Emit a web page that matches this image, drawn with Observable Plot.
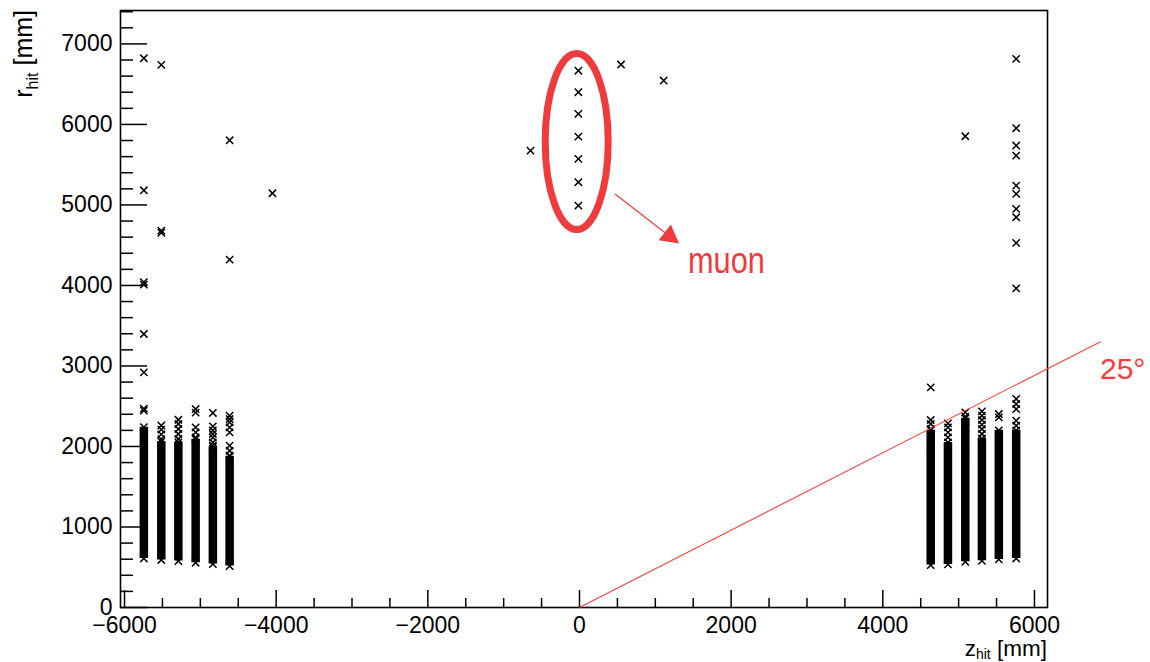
<!DOCTYPE html>
<html><head><meta charset="utf-8">
<script src="https://cdn.jsdelivr.net/npm/d3@7"></script>
<script src="https://cdn.jsdelivr.net/npm/@observablehq/plot@0.6"></script>
<style>html,body{margin:0;padding:0;background:#fff;} svg{display:block}</style>
</head><body><div id="chart"></div>
<script>
// ---- data ----
// dense hit columns (end-cap stations): z [mm], lowest and highest r of the solid band [mm]
const denseZ  = [-5745, -5515, -5290, -5062, -4835, -4614, 4632, 4859, 5088, 5307, 5530, 5759];
const denseLo = [609, 590, 577, 556, 540, 515, 527, 535, 568, 580, 597, 609];
const denseHi = [2240, 2060, 2050, 2090, 2000, 1880, 2200, 2050, 2350, 2100, 2200, 2200];
// individually visible hits in each column
const colR = [
  [6822, 5182, 4040, 4010, 3397, 2920, 2470, 2445],
  [6740, 4680, 4655, 2260, 2210, 2150, 2090],
  [2332, 2279, 2217, 2155, 2093],
  [2465, 2420, 2237, 2175, 2113],
  [2416, 2250, 2200, 2155, 2110, 2050, 2010],
  [5803, 4321, 2382, 2341, 2300, 2237, 2175, 2010, 1947, 1885],
  [2734, 2329, 2279, 2217, 2072, 1926, 1844],
  [2287, 2237, 2175, 2113],
  [5853, 2423, 2370, 2300, 2230, 2150, 2060, 1950, 1840],
  [2436, 2382, 2329, 2271, 2217, 2155],
  [2403, 2361],
  [6815, 5953, 5738, 5613, 5240, 5137, 4951, 4847, 4528, 3964, 2590, 2527, 2465, 2320, 2258]
];
// stray hits
const strayZ = [-4049, -646, 548, 1110];
const strayR = [5145, 5675, 6744, 6545];
// muon hits
const muonZ = -15;
const muonR = [6667, 6400, 6131, 5849, 5572, 5282, 4992];
// axis ticks
const xMajor = [-6000, -4000, -2000, 0, 2000, 4000, 6000];
const xMinor = d3.range(-6000, 6001, 500).filter(v => v % 2000 !== 0);
const yMajor = [0, 1000, 2000, 3000, 4000, 5000, 6000, 7000];
const yMinor = d3.range(0, 7401, 200).filter(v => v % 1000 !== 0);
// annotation anchors (data units)
const line25 = {z1: 0, r1: 0, z2: 6871, r2: 3302};
const ellipseC = {z: -30, r: 5781};
const arrowA = {z1: 475, r1: 5129, z2: 1319, r2: 4516};
const muonLabel = {z: 1437, r: 4147, text: "muon"};
const angleLabel = {z: 6871, r: 2830, text: "25°"};

// ---- tables ----
const dense = denseZ.map((z, i) => ({z, lo: denseLo[i], hi: denseHi[i]}));
const hits = [];
denseZ.forEach((z, i) => {
  colR[i].forEach(r => hits.push({z, r}));
  hits.push({z, r: denseLo[i]}, {z, r: denseHi[i]});
});
strayZ.forEach((z, i) => hits.push({z, r: strayR[i]}));
muonR.forEach(r => hits.push({z: muonZ, r}));

const fmt = d => d < 0 ? "\u2212" + Math.abs(d) : String(d);
const RED = "#ef3b3b";

const plot = Plot.plot({
  width: 1150, height: 662,
  marginLeft: 120, marginRight: 103, marginTop: 10, marginBottom: 55,
  x: {domain: [-6053, 6172], label: null},
  y: {domain: [0, 7415], label: null},
  style: {fontFamily: "'Liberation Sans', Arial, Helvetica, sans-serif", background: "white", color: "black"},
  marks: [
    Plot.ruleX(dense, {x: "z", y1: "lo", y2: "hi", stroke: "black", strokeWidth: 8.5}),
    Plot.dot(hits, {x: "z", y: "r", symbol: "times", r: 3.4, stroke: "black", strokeWidth: 1.5}),
    Plot.frame({stroke: "black", strokeWidth: 1.6}),
    Plot.axisX(xMinor, {tickSize: -9, tickFormat: () => "", strokeWidth: 1.5, label: null}),
    Plot.axisX(xMajor, {tickSize: -17, tickPadding: 26, fontSize: 23, tickFormat: fmt, strokeWidth: 1.5, label: null}),
    Plot.axisY(yMinor, {tickSize: -13, tickFormat: () => "", strokeWidth: 1.5, label: null}),
    Plot.axisY(yMajor, {tickSize: -27, tickPadding: 35, fontSize: 23, tickFormat: fmt, strokeWidth: 1.5, label: null}),
    Plot.link([line25], {x1: "z1", y1: "r1", x2: "z2", y2: "r2", stroke: "#ff3b3b", strokeWidth: 1.1})
  ]
});
document.getElementById("chart").appendChild(plot);

// ---- annotations & axis titles ----
const svg = d3.select(plot);
const X = v => plot.scale("x").apply(v), Y = v => plot.scale("y").apply(v);
const fam = "'Liberation Sans', Arial, Helvetica, sans-serif";

svg.append("ellipse")
  .attr("cx", X(ellipseC.z)).attr("cy", Y(ellipseC.r))
  .attr("rx", 31.5).attr("ry", 88)
  .attr("fill", "none").attr("stroke", RED).attr("stroke-width", 7);

{
  const x1 = X(arrowA.z1), y1 = Y(arrowA.r1), x2 = X(arrowA.z2), y2 = Y(arrowA.r2);
  const L = Math.hypot(x2 - x1, y2 - y1), ux = (x2 - x1) / L, uy = (y2 - y1) / L;
  const hl = 18, hw = 10;
  const bx = x2 - ux * hl, by = y2 - uy * hl;
  svg.append("line").attr("x1", x1).attr("y1", y1).attr("x2", bx).attr("y2", by)
    .attr("stroke", RED).attr("stroke-width", 1.2);
  svg.append("polygon")
    .attr("points", [[x2, y2], [bx - uy * hw, by + ux * hw], [bx + uy * hw, by - ux * hw]].map(p => p.join(",")).join(" "))
    .attr("fill", RED);
}

svg.append("text").attr("x", X(muonLabel.z)).attr("y", Y(muonLabel.r))
  .attr("text-anchor", "start")
  .attr("font-family", fam).attr("font-size", 36).attr("fill", RED)
  .attr("textLength", 77).attr("lengthAdjust", "spacingAndGlyphs")
  .text(muonLabel.text);

svg.append("text").attr("x", X(angleLabel.z)).attr("y", Y(angleLabel.r))
  .attr("text-anchor", "start")
  .attr("font-family", fam).attr("font-size", 30).attr("fill", "#ff3b3b")
  .text(angleLabel.text);

// x title: z_hit [mm]
{
  const t = svg.append("text").attr("x", 1047).attr("y", 656)
    .attr("text-anchor", "end").attr("font-family", fam).attr("font-size", 22.5).attr("fill", "black");
  t.append("tspan").text("z");
  t.append("tspan").attr("font-size", 14).attr("dy", 2.5).text("hit");
  t.append("tspan").attr("dy", -2.5).text(" [mm]");
}
// y title: r_hit [mm]
{
  const t = svg.append("text").attr("transform", "translate(32,10) rotate(-90)")
    .attr("text-anchor", "end").attr("font-family", fam).attr("font-size", 25).attr("fill", "black");
  t.append("tspan").text("r");
  t.append("tspan").attr("font-size", 16).attr("dy", 6).text("hit");
  t.append("tspan").attr("dy", -6).text(" [mm]");
}
</script>
</body></html>
